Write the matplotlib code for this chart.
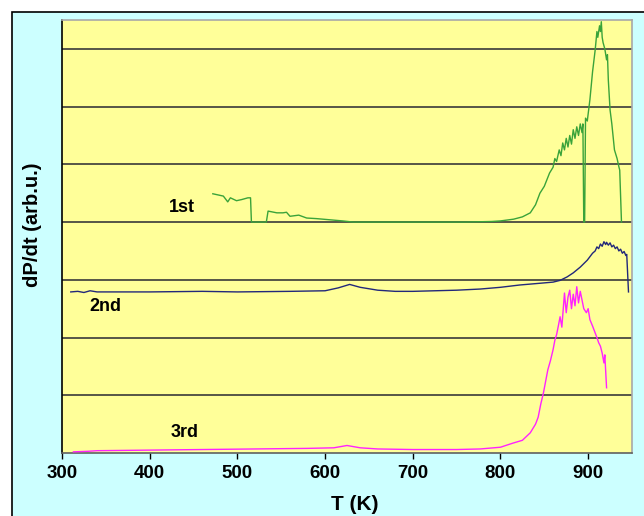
import numpy as np
import matplotlib.pyplot as plt
from matplotlib.patches import Rectangle

plt.rcParams['font.family'] = ['Liberation Sans', 'DejaVu Sans']

# 1st run (green), offset baseline 4
T1 = [472, 484, 489, 492, 499, 505, 512, 515, 516, 525, 533, 535, 545, 552, 556, 560, 570, 579,
      590, 605, 620, 632, 700, 760, 790, 800, 815, 825, 834, 840, 845, 850, 856, 860, 862, 864,
      867, 869, 871, 873, 875, 877, 879, 881, 883, 885, 887, 889, 891, 893, 894, 895, 896, 897,
      899, 902, 905, 908, 910, 911, 913, 914, 915, 916, 917, 919, 921, 922, 923, 925, 927, 930,
      933, 935, 936, 938]
P1 = [4.49, 4.45, 4.35, 4.42, 4.37, 4.39, 4.42, 4.42, 4.0, 4.0, 4.0, 4.19, 4.16, 4.16, 4.17, 4.10,
      4.12, 4.07, 4.06, 4.04, 4.02, 4.0, 4.0, 4.0, 4.01, 4.02, 4.05, 4.09, 4.16, 4.30, 4.50, 4.62,
      4.85, 4.95, 5.10, 5.05, 5.25, 5.15, 5.37, 5.25, 5.45, 5.30, 5.50, 5.35, 5.60, 5.45, 5.65,
      5.50, 5.70, 5.55, 5.70, 4.0, 4.0, 5.80, 5.75, 6.12, 6.60, 6.98, 7.30, 7.20, 7.40, 7.30,
      7.47, 7.20, 7.11, 7.00, 6.81, 6.90, 6.46, 5.94, 5.70, 5.25, 5.10, 4.96, 4.90, 4.0]

# 2nd run (navy)
T2 = [310, 318, 325, 332, 340, 400, 460, 500, 560, 600, 615, 628, 640, 660, 680, 700, 750, 777,
      800, 822, 845, 860, 868, 876, 883, 891, 899, 905, 908, 910, 912, 914, 916, 918, 920, 921,
      923, 925, 927, 929, 931, 933, 935, 937, 939, 941, 943, 944, 946]
P2 = [2.79, 2.80, 2.78, 2.81, 2.79, 2.79, 2.80, 2.79, 2.80, 2.81, 2.86, 2.92, 2.87, 2.82, 2.80,
      2.80, 2.82, 2.84, 2.87, 2.91, 2.94, 2.96, 2.99, 3.05, 3.12, 3.22, 3.34, 3.46, 3.50, 3.57,
      3.54, 3.62, 3.58, 3.66, 3.61, 3.65, 3.60, 3.64, 3.57, 3.60, 3.54, 3.57, 3.50, 3.53, 3.46,
      3.49, 3.42, 3.44, 2.79]

# 3rd run (magenta)
T3 = [313, 330, 340, 400, 460, 520, 580, 610, 625, 640, 660, 700, 750, 777, 800, 814, 825, 834,
      840, 843, 846, 849, 854, 857, 860, 862, 864, 866, 868, 870, 873, 875, 877, 879, 881, 883,
      885, 887, 889, 891, 893, 895, 898, 900, 902, 905, 908, 910, 912, 914, 916, 918, 919, 921]
P3 = [0.02, 0.03, 0.04, 0.05, 0.06, 0.07, 0.08, 0.09, 0.13, 0.09, 0.07, 0.06, 0.06, 0.07, 0.10,
      0.17, 0.22, 0.35, 0.50, 0.62, 0.85, 1.04, 1.44, 1.60, 1.79, 1.95, 2.05, 2.20, 2.36, 2.18,
      2.77, 2.43, 2.70, 2.82, 2.50, 2.75, 2.55, 2.88, 2.60, 2.80, 2.65, 2.50, 2.43, 2.50, 2.31,
      2.20, 2.08, 2.00, 1.91, 1.85, 1.73, 1.56, 1.70, 1.13]

labels = ['1st', '2nd', '3rd']
label_pos = [(437, 4.25), (349, 2.53), (440, 0.35)]
xticks = [300, 400, 500, 600, 700, 800, 900]

fig = plt.figure(figsize=(6.44, 5.16), dpi=100)
fig.patch.set_facecolor('white')
fig.patches.append(Rectangle((12.5 / 644, -0.01), 1.0, 1 - 11.5 / 516 + 0.01,
                             transform=fig.transFigure, facecolor='#CCFFFF',
                             edgecolor='black', lw=1.2, zorder=-10))

ax = fig.add_axes([62 / 644, 1 - 453 / 516, 570 / 644, 433 / 516])
ax.set_zorder(5)
ax.set_facecolor('#FFFF99')
for v in range(1, 8):
    ax.axhline(v, color='#3a3a3a', lw=1.2, zorder=1)

ax.plot(T1, P1, color='#3aa33a', lw=1.0, zorder=3)
ax.plot(T2, P2, color='#22287a', lw=1.0, zorder=3)
ax.plot(T3, P3, color='#FF22FF', lw=1.0, zorder=3)

for lab, (x, y) in zip(labels, label_pos):
    ax.text(x, y, lab, fontsize=13, fontweight='bold', ha='center', va='center')

ax.set_xlim(300, 950)
ax.set_ylim(0, 7.5)
ax.set_xticks(xticks)
ax.set_yticks([])
ax.tick_params(axis='x', direction='out', length=4, width=1, pad=5, labelsize=13.5)
for t in ax.get_xticklabels():
    t.set_fontweight('bold')

ax.spines['top'].set_color('#A8A8A8')
ax.spines['right'].set_color('#A8A8A8')
ax.spines['left'].set_color('black')
ax.spines['bottom'].set_color('#606060')
for s in ax.spines.values():
    s.set_linewidth(1.2)

fig.text(355 / 644, 1 - 505 / 516, 'T (K)', fontsize=15, fontweight='bold',
         ha='center', va='center')
fig.text(33 / 644, 1 - 225 / 516, 'dP/dt (arb.u.)', fontsize=14.5, fontweight='bold',
         ha='center', va='center', rotation=90)

fig.savefig('out.png', dpi=100)
